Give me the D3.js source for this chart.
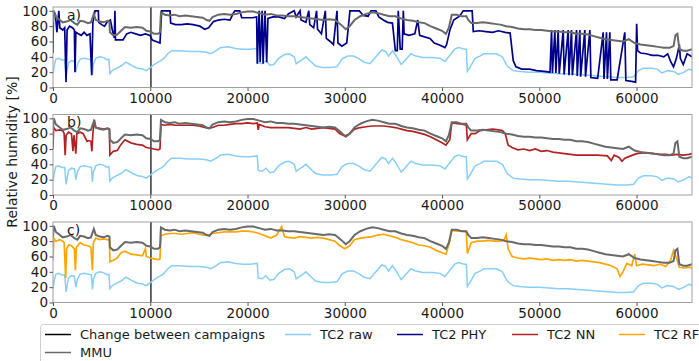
<!DOCTYPE html>
<html>
<head>
<meta charset="utf-8">
<script src="https://cdn.jsdelivr.net/npm/d3@7"></script>
<style>
  body { margin: 0; background: #fff; }
  svg { display: block; font-family: "DejaVu Sans", sans-serif; }
</style>
</head>
<body>
<svg id="chart"></svg>
<script>
// values, [sample index, relative humidity %]
const campaignChange = 10070;
const xTicks = [0, 10000, 20000, 30000, 40000, 50000, 60000];
const yTicks = [0, 20, 40, 60, 80, 100];

const tc2Raw = [[0,18],[150,30],[300,37],[600,38],[900,36],[1200,36],[1350,14],[1450,22],[1600,32],[1900,35],[2200,34],[2350,20],[2500,30],[2800,37],[3200,38],[3600,37],[3950,36],[4050,17],[4150,30],[4400,38],[4800,40],[5200,39],[5600,36],[5750,37],[5850,18],[6100,22],[6500,25],[7000,28],[7500,33],[7800,31],[8200,28],[8700,25],[9200,24],[9600,22],[10000,26],[10400,30],[10800,33],[11100,35],[11400,38],[11800,44],[12200,48],[13000,48],[14000,47],[15000,47],[15800,46],[16200,44],[16800,48],[17200,52],[18000,53],[18800,51],[19500,50],[20300,50],[21000,51],[21100,32],[21500,31],[21900,35],[22300,29],[22700,30],[23200,38],[23800,43],[24300,44],[24800,40],[25000,31],[25600,36],[26000,40],[26500,34],[27000,28],[27700,26],[28500,26],[29200,27],[29700,37],[30300,41],[30900,41],[31400,38],[32000,33],[32600,31],[33200,40],[33800,49],[34200,47],[34500,41],[34900,48],[35300,41],[35800,30],[36300,37],[36800,44],[37300,41],[38000,39],[39000,39],[39800,38],[40300,34],[40800,42],[41300,50],[41700,52],[42300,50],[42500,50],[42600,21],[42900,27],[43400,38],[43900,41],[44300,44],[45000,44],[45600,44],[46200,40],[46700,28],[47300,22],[48000,21],[49000,20],[50000,20],[51000,19],[52000,18],[53000,18],[54000,17],[55000,16],[56000,15],[57000,14],[58000,13],[59000,13],[59700,14],[60200,22],[60700,25],[61500,25],[62100,24],[62600,19],[63200,22],[63800,21],[64300,17],[64900,20],[65400,24],[65700,22]];

const mmu = [[0,85],[80,100],[300,92],[700,88],[1000,85],[1400,86],[1800,88],[2200,84],[2500,82],[2800,87],[3200,86],[3600,84],[3900,85],[4200,96],[4400,88],[4800,86],[5200,85],[5600,87],[5800,86],[5850,72],[6200,68],[6600,69],[7000,74],[7400,79],[8000,78],[8600,79],[9200,78],[9600,74],[10000,73],[10400,70],[10800,70],[11000,72],[11100,98],[11500,95],[12000,94],[12500,95],[13000,93],[13600,94],[14200,93],[14800,92],[15400,91],[15800,88],[16100,87],[16400,92],[17000,95],[17600,96],[18200,95],[18800,96],[19400,98],[20000,99],[20600,99],[21200,97],[21800,95],[22400,96],[23000,94],[23600,94],[24200,93],[24800,93],[25400,92],[26000,91],[26600,90],[27200,89],[27800,88],[28400,89],[29000,88],[29600,82],[30100,76],[30500,80],[31000,88],[31600,93],[32200,96],[32800,98],[33400,97],[34000,95],[34600,93],[35200,93],[35800,90],[36400,88],[37000,87],[37600,85],[38200,84],[38800,80],[39400,77],[40000,74],[40400,70],[40700,78],[41000,95],[41500,95],[42000,93],[42500,93],[42700,88],[43000,84],[43600,84],[44200,85],[44800,84],[45400,83],[46000,82],[46600,80],[47200,79],[47800,77],[48400,76],[49000,76],[49600,75],[50200,75],[50800,74],[51400,73],[52000,73],[52600,72],[53200,72],[53800,70],[54400,70],[55000,69],[55600,67],[56200,65],[56800,63],[57400,62],[58000,61],[58600,60],[59200,63],[59800,58],[60400,56],[61000,55],[61600,54],[62200,53],[62800,52],[63400,52],[63800,54],[64000,68],[64200,70],[64400,50],[64800,48],[65200,48],[65700,50]];

const tc2Phy = [[0,45],[50,100],[250,95],[400,72],[600,100],[700,78],[1000,75],[1200,78],[1340,7],[1450,75],[1700,80],[2000,78],[2200,75],[2260,20],[2350,72],[2600,70],[2900,68],[3200,72],[3500,68],[3800,70],[3980,16],[4100,85],[4320,100],[4660,100],[4700,85],[5000,82],[5300,80],[5600,86],[5900,88],[6100,75],[6300,65],[6370,100],[6420,62],[6800,62],[7200,62],[7570,70],[8000,72],[8500,70],[9000,68],[9500,70],[9970,68],[10200,62],[10600,60],[11000,58],[11170,100],[12030,100],[12100,84],[12600,82],[13200,82],[13800,83],[14400,82],[15100,80],[15600,76],[16000,78],[16500,86],[17000,88],[17600,89],[18200,88],[18540,97],[18700,100],[19200,100],[19400,91],[20000,91],[20500,91],[20940,92],[21000,31],[21200,100],[21300,33],[21500,100],[21600,31],[21800,100],[21970,33],[22100,90],[22600,92],[23200,92],[23800,90],[24200,96],[24500,98],[24800,100],[25000,92],[25400,100],[25500,88],[26000,85],[26300,100],[26400,82],[26800,78],[27100,100],[27200,76],[27600,70],[28000,100],[28100,64],[28500,60],[28830,56],[29200,100],[29300,58],[29700,54],[30200,58],[30530,100],[31000,100],[31500,100],[31900,94],[32400,93],[32700,100],[33200,100],[33500,92],[33960,88],[34400,85],[34900,84],[35200,48],[35400,48],[35500,100],[35700,50],[35900,50],[36020,100],[36100,70],[36600,68],[37200,70],[37500,88],[37700,68],[38200,66],[38760,64],[39200,58],[39800,55],[40300,52],[40470,56],[40810,75],[41200,88],[41800,93],[42180,100],[43100,100],[43210,73],[43800,74],[44500,73],[45200,72],[45800,74],[46500,72],[47000,71],[47320,35],[47600,27],[48200,24],[49000,24],[49700,22],[50500,21],[51100,20],[51260,75],[51350,19],[51600,75],[51700,19],[51940,75],[52050,18],[52460,75],[52550,17],[52970,75],[53050,16],[53310,75],[53400,16],[53830,75],[53900,15],[54170,75],[54250,14],[54680,75],[54750,14],[55200,75],[55300,13],[56000,12],[56570,72],[56650,11],[56910,72],[57000,11],[57250,72],[57350,10],[58000,10],[58790,72],[58900,9],[59500,8],[59900,7],[60010,83],[60100,48],[60400,45],[61000,44],[61600,42],[62200,42],[62800,40],[63200,44],[63500,34],[63800,27],[64100,38],[64400,56],[64500,38],[64800,30],[65200,44],[65700,40]];

const tc2Nn = [[0,60],[60,88],[300,84],[700,85],[1000,84],[1150,80],[1250,52],[1350,78],[1600,82],[1900,80],[2050,57],[2150,78],[2350,54],[2450,80],[2800,82],[3100,80],[3300,75],[3500,70],[3700,71],[3900,70],[4000,57],[4100,80],[4250,98],[4400,88],[4800,87],[5200,86],[5600,87],[5800,85],[5850,52],[6200,57],[6600,58],[7000,66],[7400,72],[8000,68],[8600,66],[9200,65],[9600,62],[10000,61],[10400,60],[10800,59],[11000,60],[11100,92],[11500,91],[12000,92],[12600,91],[13200,91],[13800,91],[14400,91],[15000,90],[15600,88],[16000,87],[16400,88],[17000,91],[17600,91],[18200,92],[18800,93],[19400,93],[20000,94],[20600,93],[21000,94],[21100,85],[21200,92],[21800,89],[22400,88],[23000,88],[23600,88],[24200,88],[24800,87],[25400,86],[26000,88],[26600,86],[27200,87],[27800,88],[28400,87],[29000,86],[29500,80],[30000,77],[30500,80],[31000,86],[31600,88],[32200,89],[32800,90],[33400,90],[34000,90],[34600,89],[35200,88],[35800,86],[36400,84],[37000,83],[37600,81],[38200,79],[38800,76],[39400,72],[40000,68],[40400,65],[40800,72],[41000,94],[41600,93],[42200,92],[42500,91],[42600,72],[43000,80],[43400,80],[43900,84],[44500,85],[45200,86],[45800,85],[46200,84],[46500,80],[46800,65],[47200,62],[47800,59],[48400,60],[49000,58],[49600,60],[50200,57],[50800,58],[51400,56],[52000,55],[52600,54],[53200,53],[53800,52],[54400,52],[55000,52],[56000,52],[57000,51],[57400,45],[57700,52],[58200,49],[58500,44],[58800,48],[59400,51],[60000,54],[60600,55],[61200,55],[61800,54],[62400,53],[63000,53],[63600,52],[64200,53],[64800,52],[65400,53],[65700,54]];

const tc2Rf = [[0,55],[80,84],[300,80],[700,82],[1000,80],[1150,78],[1300,32],[1400,70],[1600,75],[1900,74],[2200,70],[2300,42],[2400,72],[2800,78],[3200,75],[3600,74],[3900,72],[4050,42],[4150,78],[4400,84],[4800,82],[5200,83],[5600,82],[5800,82],[5850,53],[6200,55],[6600,58],[7000,65],[7400,67],[8000,63],[8600,62],[9200,61],[9500,70],[9600,60],[10000,58],[10400,57],[10800,56],[11000,57],[11100,87],[11500,89],[12000,90],[12600,90],[13200,89],[13800,90],[14400,91],[15000,89],[15600,88],[16000,88],[16400,90],[17000,91],[17600,92],[18200,92],[18800,92],[19400,93],[20000,93],[20600,92],[21200,90],[21800,87],[22400,84],[23000,88],[23500,99],[23800,86],[24200,85],[24800,84],[25400,86],[26000,85],[26600,84],[27200,85],[27800,84],[28400,82],[29000,80],[29500,74],[30000,70],[30500,74],[31000,82],[31600,84],[32200,85],[32800,86],[33400,88],[34000,89],[34600,87],[35200,85],[35800,82],[36400,80],[37000,78],[37600,75],[38200,74],[38800,72],[39400,68],[40000,65],[40400,63],[40800,80],[41000,94],[41600,93],[42200,93],[42500,92],[42600,64],[43000,78],[43600,80],[44200,80],[44800,81],[45400,80],[46000,80],[46400,82],[46600,88],[46800,70],[47200,60],[47800,58],[48400,57],[49000,58],[49600,57],[50200,56],[50800,57],[51400,55],[52000,56],[52600,55],[53200,56],[53800,54],[54400,55],[55000,54],[55600,53],[56200,52],[56800,50],[57400,48],[58000,44],[58300,34],[58600,40],[59000,51],[59500,48],[59800,63],[60000,48],[60600,50],[61200,49],[61800,48],[62400,50],[63000,47],[63500,55],[63800,68],[64100,58],[64400,46],[64900,45],[65400,46],[65700,45]];

const width = 699, height = 361;
const svg = d3.select("#chart").attr("width", width).attr("height", height);

const colors = {
    change: "#000000",
    raw: "#87CEFA",
    phy: "#00008B",
    nn: "#B22222",
    rf: "#FFA500",
    mmu: "#696969"
};

const x = d3.scaleLinear().domain([0, 65700]).range([53, 692]);
const panelH = 80.5;

const panels = [
    { top: 7, label: "a)", model: tc2Phy, color: colors.phy },
    { top: 114.5, label: "b)", model: tc2Nn, color: colors.nn },
    { top: 222, label: "c)", model: tc2Rf, color: colors.rf }
];

panels.forEach((p, i) => {
    const y = d3.scaleLinear().domain([0, 105]).range([p.top + panelH, p.top]);
    const line = d3.line().x(d => x(d[0])).y(d => y(d[1]));
    const g = svg.append("g");

    g.append("clipPath").attr("id", "clip" + i)
        .append("rect")
        .attr("x", x.range()[0]).attr("y", p.top)
        .attr("width", x.range()[1] - x.range()[0]).attr("height", panelH);

    const plot = g.append("g").attr("clip-path", `url(#clip${i})`);

    // change between campaigns
    plot.append("line")
        .attr("x1", x(campaignChange)).attr("x2", x(campaignChange))
        .attr("y1", p.top).attr("y2", p.top + panelH)
        .attr("stroke", colors.change).attr("stroke-width", 1.2);

    plot.append("path").datum(tc2Raw)
        .attr("d", line).attr("fill", "none")
        .attr("stroke", colors.raw).attr("stroke-width", 1.5);

    plot.append("path").datum(p.model)
        .attr("d", line).attr("fill", "none")
        .attr("stroke", p.color).attr("stroke-width", 1.7);

    // MMU trace is a noisy band in the original, so draw it a bit heavier
    plot.append("path").datum(mmu)
        .attr("d", line).attr("fill", "none")
        .attr("stroke", colors.mmu).attr("stroke-width", 2);

    // frame
    g.append("rect")
        .attr("x", x.range()[0]).attr("y", p.top)
        .attr("width", x.range()[1] - x.range()[0]).attr("height", panelH)
        .attr("fill", "none").attr("stroke", "#a0a0a0").attr("stroke-width", 1);

    const xAxis = g.append("g")
        .attr("transform", `translate(0,${p.top + panelH})`)
        .call(d3.axisBottom(x).tickValues(xTicks).tickFormat(d3.format("d")).tickSize(3.5).tickPadding(2));
    const yAxis = g.append("g")
        .attr("transform", `translate(${x.range()[0]},0)`)
        .call(d3.axisLeft(y).tickValues(yTicks).tickSize(3.5).tickPadding(1.5));

    [xAxis, yAxis].forEach(a => {
        a.select(".domain").remove();
        a.selectAll(".tick line").attr("stroke", "#555");
        a.selectAll(".tick text")
            .attr("fill", "#1a1a1a")
            .style("font-size", "13.5px")
            .style("font-family", "DejaVu Sans, sans-serif");
    });

    g.append("text")
        .attr("x", 67).attr("y", p.top + 12.5)
        .attr("fill", "#1a1a1a")
        .style("font-size", "14px")
        .text(p.label);
});

svg.append("text")
    .attr("transform", "translate(17,152) rotate(-90)")
    .attr("text-anchor", "middle")
    .attr("fill", "#1a1a1a")
    .style("font-size", "14px")
    .text("Relative humidity [%]");

// legend
const legendItems = [
    { name: "Change between campaigns", color: colors.change, lx: 45, row: 0 },
    { name: "TC2 raw", color: colors.raw, lx: 285, row: 0 },
    { name: "TC2 PHY", color: colors.phy, lx: 397, row: 0 },
    { name: "TC2 NN", color: colors.nn, lx: 512, row: 0 },
    { name: "TC2 RF", color: colors.rf, lx: 619, row: 0 },
    { name: "MMU", color: colors.mmu, lx: 45, row: 1 }
];

svg.append("rect")
    .attr("x", 40.5).attr("y", 324.5)
    .attr("width", 680).attr("height", 60)
    .attr("rx", 3)
    .attr("fill", "#fff").attr("stroke", "#d0d0d0").attr("stroke-width", 1);

const leg = svg.selectAll(".leg")
    .data(legendItems)
    .join("g")
    .attr("class", "leg")
    .attr("transform", d => `translate(${d.lx},${334.5 + d.row * 18})`);

leg.append("line")
    .attr("x1", 0).attr("x2", 26)
    .attr("stroke", d => d.color).attr("stroke-width", 1.5);

leg.append("text")
    .attr("x", 35).attr("dy", "0.35em")
    .attr("fill", "#1a1a1a")
    .style("font-size", "13px")
    .text(d => d.name);
</script>
</body>
</html>
